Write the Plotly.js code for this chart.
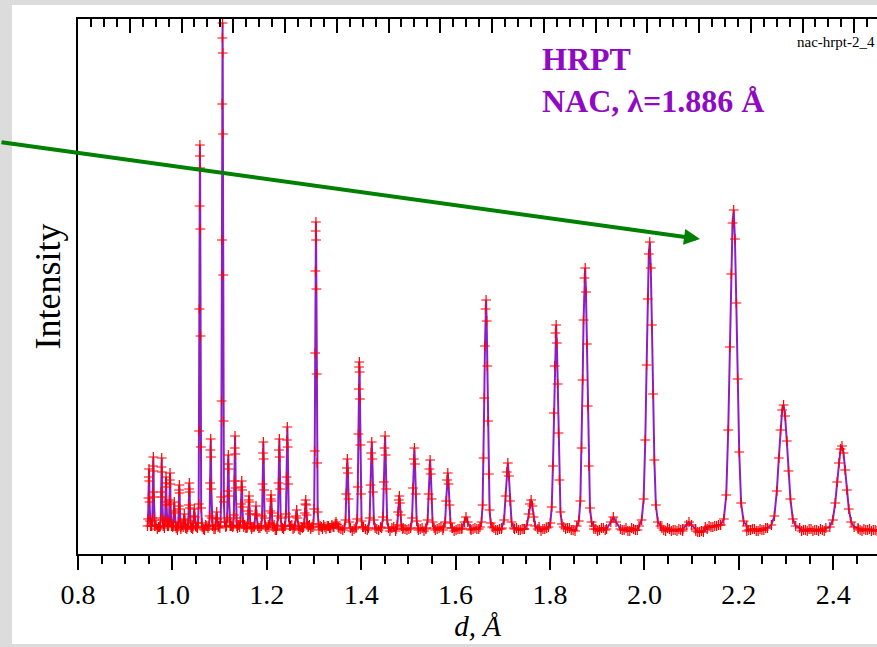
<!DOCTYPE html>
<html><head><meta charset="utf-8">
<script src="https://cdn.plot.ly/plotly-3.0.1.min.js"></script>
<style>html,body{margin:0;padding:0;background:#fff;overflow:hidden}</style>
</head><body><div id="chart" style="width:877px;height:647px"></div>
<script>
// ---- data: d (Å) and intensity (arbitrary units) ----
const peakPoints = [
 [[0.9473,4],[0.9485,11],[0.9493,32],[0.9499,53],[0.9505,61],[0.9510,49],[0.9516,28],[0.9524,9],[0.9536,4]],
 [[0.9564,4],[0.9576,12],[0.9584,38],[0.9590,64],[0.9596,73],[0.9601,59],[0.9607,33],[0.9615,10],[0.9627,4]],
 [[0.9742,4],[0.9754,12],[0.9762,38],[0.9768,63],[0.9774,72],[0.9779,58],[0.9785,33],[0.9793,10],[0.9805,4]],
 [[0.9833,4],[0.9845,10],[0.9853,28],[0.9859,47],[0.9865,53],[0.9870,43],[0.9876,25],[0.9884,8],[0.9896,4]],
 [[0.9918,4],[0.9930,10],[0.9938,30],[0.9944,50],[0.9950,57],[0.9955,46],[0.9961,26],[0.9969,8],[0.9981,4]],
 [[1.0016,4],[1.0031,19],[1.0040,28],[1.0050,17],[1.0065,4]],
 [[1.0115,3],[1.0127,8],[1.0135,24],[1.0141,40],[1.0147,45],[1.0152,37],[1.0158,21],[1.0166,7],[1.0178,3]],
 [[1.0228,3],[1.0243,11],[1.0252,16],[1.0262,10],[1.0277,3]],
 [[1.0324,3],[1.0338,9],[1.0346,25],[1.0353,41],[1.0359,47],[1.0365,38],[1.0371,22],[1.0380,7],[1.0393,3]],
 [[1.0438,4],[1.0454,14],[1.0464,21],[1.0475,13],[1.0492,4]],
 [[1.0544,7],[1.0557,26],[1.0565,99],[1.0571,221],[1.0577,324],[1.0580,374],[1.0583,385],[1.0587,362],[1.0591,301],[1.0596,194],[1.0603,83],[1.0610,22],[1.0623,7]],
 [[1.0775,4],[1.0789,14],[1.0798,47],[1.0805,80],[1.0812,91],[1.0818,73],[1.0825,41],[1.0834,12],[1.0849,4]],
 [[1.0910,4],[1.0929,12],[1.0939,18],[1.0951,11],[1.0969,3]],
 [[1.1020,8],[1.1034,33],[1.1042,129],[1.1049,290],[1.1055,426],[1.1059,492],[1.1063,507],[1.1066,477],[1.1070,396],[1.1076,255],[1.1083,109],[1.1091,28],[1.1105,8]],
 [[1.1145,4],[1.1160,12],[1.1170,39],[1.1178,66],[1.1185,75],[1.1192,61],[1.1199,34],[1.1209,10],[1.1225,4]],
 [[1.1287,4],[1.1302,15],[1.1312,49],[1.1320,82],[1.1327,94],[1.1334,76],[1.1341,42],[1.1351,12],[1.1367,4]],
 [[1.1426,3],[1.1442,9],[1.1453,26],[1.1461,43],[1.1469,49],[1.1476,40],[1.1485,23],[1.1495,8],[1.1512,3]],
 [[1.1581,3],[1.1597,7],[1.1608,19],[1.1616,30],[1.1624,34],[1.1631,28],[1.1640,16],[1.1650,6],[1.1667,3]],
 [[1.1738,4],[1.1759,16],[1.1771,24],[1.1785,15],[1.1806,4]],
 [[1.1884,4],[1.1900,14],[1.1911,46],[1.1919,77],[1.1927,88],[1.1934,71],[1.1943,40],[1.1953,12],[1.1970,4]],
 [[1.2044,3],[1.2062,7],[1.2073,19],[1.2082,31],[1.2090,35],[1.2098,29],[1.2107,17],[1.2118,6],[1.2135,3]],
 [[1.2220,4],[1.2238,14],[1.2249,47],[1.2258,80],[1.2266,91],[1.2274,73],[1.2283,41],[1.2294,12],[1.2311,4]],
 [[1.2386,4],[1.2405,16],[1.2417,53],[1.2427,90],[1.2435,103],[1.2444,83],[1.2453,46],[1.2465,13],[1.2483,4]],
 [[1.2596,4],[1.2619,14],[1.2633,20],[1.2648,12],[1.2672,4]],
 [[1.2774,3],[1.2793,7],[1.2806,17],[1.2816,26],[1.2825,30],[1.2834,25],[1.2844,15],[1.2856,6],[1.2876,3]],
 [[1.2986,6],[1.3004,21],[1.3015,79],[1.3024,177],[1.3031,259],[1.3036,299],[1.3041,308],[1.3045,290],[1.3051,241],[1.3058,156],[1.3067,67],[1.3078,18],[1.3096,6]],
 [[1.3422,3],[1.3450,6],[1.3466,8],[1.3484,6],[1.3512,3]],
 [[1.3643,2],[1.3668,10],[1.3683,36],[1.3696,62],[1.3707,71],[1.3719,57],[1.3731,31],[1.3747,8],[1.3771,2]],
 [[1.3892,3],[1.3915,11],[1.3928,43],[1.3940,96],[1.3949,141],[1.3955,163],[1.3961,168],[1.3967,158],[1.3974,131],[1.3983,85],[1.3994,36],[1.4007,9],[1.4030,3]],
 [[1.4152,2],[1.4179,12],[1.4197,45],[1.4211,77],[1.4224,88],[1.4236,71],[1.4250,38],[1.4267,10],[1.4295,2]],
 [[1.4434,2],[1.4461,13],[1.4479,48],[1.4493,82],[1.4506,94],[1.4518,75],[1.4532,41],[1.4549,10],[1.4577,2]],
 [[1.4737,1],[1.4764,5],[1.4782,18],[1.4796,30],[1.4809,34],[1.4821,27],[1.4835,15],[1.4852,4],[1.4880,1]],
 [[1.5048,2],[1.5078,12],[1.5097,42],[1.5113,71],[1.5127,82],[1.5140,66],[1.5155,36],[1.5175,9],[1.5205,2]],
 [[1.5374,2],[1.5407,10],[1.5428,36],[1.5445,61],[1.5460,70],[1.5475,56],[1.5491,31],[1.5512,8],[1.5545,2]],
 [[1.5742,2],[1.5778,8],[1.5800,29],[1.5819,50],[1.5835,57],[1.5851,46],[1.5869,25],[1.5892,7],[1.5927,2]],
 [[1.6132,1],[1.6188,8],[1.6220,13],[1.6256,8],[1.6312,1]],
 [[1.6516,3],[1.6548,8],[1.6572,25],[1.6592,72],[1.6608,132],[1.6622,184],[1.6634,221],[1.6646,230],[1.6658,209],[1.6672,164],[1.6686,109],[1.6702,56],[1.6720,20],[1.6744,7],[1.6776,3]],
 [[1.6978,2],[1.7027,10],[1.7059,34],[1.7084,58],[1.7107,67],[1.7129,54],[1.7154,29],[1.7185,8],[1.7235,2]],
 [[1.7457,1],[1.7512,5],[1.7547,16],[1.7575,26],[1.7600,30],[1.7625,24],[1.7652,13],[1.7687,4],[1.7742,1]],
 [[1.7967,3],[1.8007,7],[1.8037,23],[1.8062,64],[1.8082,117],[1.8099,164],[1.8115,197],[1.8130,205],[1.8145,187],[1.8162,146],[1.8179,97],[1.8199,50],[1.8222,18],[1.8252,6],[1.8292,3]],
 [[1.8566,4],[1.8610,9],[1.8643,29],[1.8670,82],[1.8692,150],[1.8711,210],[1.8729,252],[1.8745,262],[1.8762,238],[1.8781,186],[1.8799,124],[1.8821,64],[1.8847,22],[1.8880,8],[1.8924,4]],
 [[1.9198,1],[1.9289,8],[1.9341,13],[1.9400,8],[1.9491,1]],
 [[1.9886,4],[1.9942,10],[1.9984,31],[2.0019,90],[2.0047,165],[2.0071,231],[2.0093,276],[2.0114,288],[2.0135,262],[2.0159,205],[2.0183,136],[2.0211,70],[2.0243,25],[2.0285,8],[2.0341,4]],
 [[2.0813,1],[2.0897,5],[2.0945,8],[2.0999,5],[2.1083,1]],
 [[2.1615,5],[2.1683,11],[2.1734,35],[2.1776,100],[2.1810,183],[2.1839,256],[2.1867,307],[2.1892,320],[2.1918,291],[2.1947,227],[2.1975,151],[2.2009,78],[2.2049,27],[2.2100,9],[2.2168,4]],
 [[2.2607,2],[2.2691,5],[2.2754,14],[2.2806,39],[2.2848,72],[2.2884,100],[2.2918,120],[2.2949,125],[2.2981,114],[2.3017,89],[2.3052,59],[2.3094,31],[2.3143,11],[2.3206,4],[2.3290,2]],
 [[2.3844,2],[2.3928,3],[2.3991,10],[2.4043,27],[2.4085,48],[2.4121,67],[2.4155,81],[2.4186,84],[2.4218,77],[2.4254,60],[2.4289,40],[2.4331,21],[2.4380,8],[2.4443,3],[2.4527,2]]
];
const backgroundD = [
 0.948,0.953,0.958,0.963,0.968,0.973,0.978,0.983,0.988,0.993,0.998,1.003,1.008,1.013,1.018,1.023,1.028,1.033,1.038,1.043,
 1.048,1.053,1.058,1.063,1.068,1.073,1.078,1.083,1.088,1.093,1.098,1.103,1.108,1.113,1.118,1.123,1.128,1.133,1.138,1.143,
 1.148,1.153,1.158,1.163,1.168,1.173,1.178,1.183,1.188,1.193,1.198,1.203,1.208,1.213,1.218,1.223,1.228,1.233,1.238,1.243,
 1.248,1.253,1.258,1.263,1.268,1.273,1.278,1.283,1.288,1.293,1.298,1.303,1.308,1.313,1.318,1.323,1.328,1.333,1.338,1.343,
 1.353,1.361,1.369,1.377,1.385,1.393,1.401,1.409,1.417,1.425,1.433,1.441,1.449,1.457,1.465,1.473,1.481,1.489,1.497,1.505,
 1.513,1.521,1.529,1.537,1.545,1.553,1.561,1.569,1.577,1.585,1.593,1.601,1.609,1.617,1.625,1.633,1.641,1.649,1.657,1.665,
 1.673,1.681,1.689,1.697,1.705,1.713,1.721,1.729,1.737,1.745,1.753,1.761,1.769,1.777,1.785,1.793,1.801,1.809,1.817,1.825,
 1.833,1.841,1.849,1.857,1.865,1.873,1.881,1.889,1.897,1.905,1.913,1.921,1.929,1.937,1.945,1.953,1.961,1.969,1.977,1.985,
 1.993,2.001,2.009,2.017,2.025,2.033,2.041,2.049,2.057,2.065,2.073,2.081,2.089,2.097,2.105,2.113,2.121,2.129,2.137,2.145,
 2.153,2.161,2.169,2.177,2.185,2.193,2.201,2.209,2.217,2.225,2.233,2.241,2.249,2.257,2.265,2.273,2.281,2.289,2.297,2.305,
 2.313,2.321,2.329,2.337,2.345,2.353,2.361,2.369,2.377,2.385,2.393,2.401,2.409,2.417,2.425,2.433,2.441,2.449,2.457,2.465,
 2.473,2.481,2.489
];
const backgroundI = [
 3,5,2,4,1,3,5,2,4,0,3,5,2,4,1,4,2,5,3,1,
 4,2,5,3,0,4,2,5,1,3,4,2,5,3,1,4,3,5,2,0,
 3,5,2,4,1,3,5,2,4,1,3,5,2,4,0,3,5,2,4,1,
 3,5,2,4,1,3,5,2,4,1,3,5,2,4,1,3,4,2,5,3,
 2,0,1,3,1,-1,2,1,0,2, 1,3,0,1,2,-1,1,2,0,3,
 1,0,2,1,-1,2,1,3,0,1, 2,0,1,3,1,0,2,1,-1,2,
 1,2,0,1,3,1,-1,2,0,1, 2,1,0,3,1,2,0,1,2,-1,
 1,2,0,1,3,1,0,2,1,0, 2,1,3,2,1,0,2,-1,1,0,
 1,2,0,1,-1,1,0,2,-1,0, 1,-1,0,1,-2,-2,-1,3,4,3,
 4,5,3,4,2,1,0,1,-1,0, 1,-1,0,2,0,-1,1,0,2,1,
 0,-1,1,0,-1,1,0,-1,0,1, -1,0,1,0,-1,0,1,-1,0,1,
 0,-1,0
];
// background points lying between the ones above
const backgroundD2 = [
 0.9505,0.9555,0.9605,0.9655,0.9705,0.9755,0.9805,0.9855,0.9905,0.9955,1.0005,1.0055,1.0105,1.0155,1.0205,1.0255,1.0305,1.0355,1.0405,1.0455,
 1.0505,1.0555,1.0605,1.0655,1.0705,1.0755,1.0805,1.0855,1.0905,1.0955,1.1005,1.1055,1.1105,1.1155,1.1205,1.1255,1.1305,1.1355,1.1405,1.1455,
 1.1505,1.1555,1.1605,1.1655,1.1705,1.1755,1.1805,1.1855,1.1905,1.1955,1.2005,1.2055,1.2105,1.2155,1.2205,1.2255,1.2305,1.2355,1.2405,1.2455,
 1.2505,1.2555,1.2605,1.2655,1.2705,1.2755,1.2805,1.2855,1.2905,1.2955,1.3005,1.3055,1.3105,1.3155,1.3205,1.3255,1.3305,1.3355,1.3405,1.3455,
 1.357,1.365,1.373,1.381,1.389,1.397,1.405,1.413,1.421,1.429,1.437,1.445,1.453,1.461,1.469,1.477,1.485,1.493,1.501,1.509,
 1.517,1.525,1.533,1.541,1.549,1.557,1.565,1.573,1.581,1.589,1.597,1.605,1.613,1.621,1.629,1.637,1.645,1.653,1.661,1.669,
 1.677,1.685,1.693,1.701,1.709,1.717,1.725,1.733,1.741,1.749,1.757,1.765,1.773,1.781,1.789,1.797,1.805,1.813,1.821,1.829,
 1.837,1.845,1.853,1.861,1.869,1.877,1.885,1.893,1.901,1.909,1.917,1.925,1.933,1.941,1.949,1.957,1.965,1.973,1.981,1.989,
 1.997,2.005,2.013,2.021,2.029,2.037,2.045,2.053,2.061,2.069,2.077,2.085,2.093,2.101,2.109,2.117,2.125,2.133,2.141,2.149,
 2.157,2.165,2.173,2.181,2.189,2.197,2.205,2.213,2.221,2.229,2.237,2.245,2.253,2.261,2.269,2.277,2.285,2.293,2.301,2.309,
 2.317,2.325,2.333,2.341,2.349,2.357,2.365,2.373,2.381,2.389,2.397,2.405,2.413,2.421,2.429,2.437,2.445,2.453,2.461,2.469,
 2.477,2.485,2.493
];
const backgroundI2 = [
 2,4,1,5,3,0,4,2,5,1,3,4,0,2,5,3,1,4,2,5,
 3,0,4,1,5,2,3,5,1,4,2,0,3,5,2,4,1,3,5,0,
 4,2,5,1,3,0,4,2,5,3,1,4,2,5,0,3,4,1,5,2,
 4,1,3,5,0,2,4,1,5,3,2,4,0,3,5,1,4,2,3,5,
 1,2,0,-1,2,1,3,0,1,2, 0,2,1,-1,3,0,2,1,1,0,
 2,1,-1,1,3,0,2,0,1,2, -1,1,2,0,3,1,1,-1,2,0,
 2,0,1,3,0,2,1,0,1,3, 0,1,2,-1,1,2,0,3,1,1,
 2,0,-1,2,1,3,0,1,-1,2, 0,2,1,1,3,0,-1,2,0,1,
 2,-1,0,1,0,2,-1,1,0,-1, 0,1,-1,0,-1,-2,-2,1,3,4,
 5,4,3,2,1,0,2,-1,0,1, -1,1,0,-1,1,0,1,-1,0,2,
 0,1,-1,0,1,-1,0,1,-1,0, 1,-1,0,0,1,-1,0,1,-1,0,
 1,0,-1
];
const xTickValues = [0.8, 1.0, 1.2, 1.4, 1.6, 1.8, 2.0, 2.2, 2.4];
const xTickLabels = ['0.8', '1.0', '1.2', '1.4', '1.6', '1.8', '2.0', '2.2', '2.4'];
const titleLines = ['HRPT', 'NAC, λ=1.886 Å'];
const fileLabel = 'nac-hrpt-2_4';
const yTitle = 'Intensity';
const xTitle = 'd, Å';

// ---- merge the profile ----
const spans = peakPoints.map(p => [p[0][0], p[p.length - 1][0]]);
const pts = [];
peakPoints.forEach(p => p.forEach(q => pts.push(q)));
const addBackground = (ds, is) => ds.forEach((d, i) => {
  if (!spans.some(s => d >= s[0] && d <= s[1])) pts.push([d, is[i]]);
});
addBackground(backgroundD, backgroundI);
addBackground(backgroundD2, backgroundI2);
pts.sort((a, b) => a[0] - b[0]);
const dAll = pts.map(p => p[0]);
const iAll = pts.map(p => p[1]);

const serif = 'Liberation Serif, Times New Roman, serif';
const purple = 'rgb(140,30,200)';

const traces = [
  { x: dAll, y: iAll, type: 'scatter', mode: 'lines', name: 'calc',
    line: { color: purple, width: 2 }, hoverinfo: 'skip' },
  { x: dAll, y: iAll, type: 'scatter', mode: 'markers', name: 'obs',
    marker: { symbol: 'cross-thin', size: 7, color: 'red', line: { color: 'red', width: 1.2 } } },
  { x: [], y: [], xaxis: 'x2', yaxis: 'y', type: 'scatter', mode: 'markers', showlegend: false }
];

const W = 877, H = 647, L = 78, T = 19, B = 93;
const pw = W - L, ph = H - T - B;
const px = X => (X - L) / pw;
const py = Y => (H - B - Y) / ph;

const layout = {
  width: W, height: H,
  margin: { l: L, r: 0, t: T, b: B, pad: 0 },
  paper_bgcolor: '#dcdcdc', plot_bgcolor: 'white',
  showlegend: false,
  font: { family: serif, color: 'black' },
  xaxis: {
    range: [0.8, 0.8 + pw / 472], showline: true, linewidth: 2, linecolor: 'black',
    ticks: 'outside', ticklen: 14, tickwidth: 2, tickcolor: 'black',
    tickvals: xTickValues, ticktext: xTickLabels,
    tickfont: { family: serif, size: 28, color: 'black' },
    minor: { dtick: 0.05, tick0: 0.8, ticks: 'outside', ticklen: 8, tickwidth: 2, tickcolor: 'black' },
    showgrid: false, zeroline: false,
    title: { text: '<i>' + xTitle + '</i>', font: { family: serif, size: 29, color: 'black' }, standoff: 4 }
  },
  xaxis2: {
    overlaying: 'x', side: 'top', anchor: 'y',
    range: [-1, -1 + pw / 51.75], showline: true, linewidth: 2, linecolor: 'black',
    ticks: 'inside', ticklen: 14, tickwidth: 2, tickcolor: 'black', dtick: 1, tick0: 0,
    minor: { dtick: 0.25, tick0: 0, ticks: 'inside', ticklen: 8, tickwidth: 2, tickcolor: 'black' },
    showticklabels: false, showgrid: false, zeroline: false
  },
  yaxis: {
    range: [-24, 511], showline: true, linewidth: 2, linecolor: 'black',
    ticks: '', showticklabels: false, showgrid: false, zeroline: false,
    title: { text: yTitle, font: { family: serif, size: 36, color: 'black' }, standoff: 4 }
  },
  shapes: [
    { type: 'rect', xref: 'paper', yref: 'paper', layer: 'below',
      x0: px(12), x1: px(900), y0: py(644), y1: py(5), fillcolor: 'white', line: { width: 0 } }
  ],
  annotations: [
    { xref: 'paper', yref: 'paper', x: px(540), y: py(39), xanchor: 'left', yanchor: 'top',
      text: '<b>' + titleLines.join('<br>') + '</b>', align: 'left', showarrow: false,
      font: { family: serif, size: 32, color: 'rgb(145,10,195)' } },
    { xref: 'paper', yref: 'paper', x: px(877), y: py(42), xanchor: 'right', yanchor: 'middle',
      text: fileLabel, showarrow: false, font: { family: serif, size: 15, color: 'black' } },
    { xref: 'paper', yref: 'paper', x: px(700), y: py(239), text: '', showarrow: true,
      axref: 'pixel', ayref: 'pixel', ax: -712, ay: -97, arrowhead: 2, arrowsize: 0.8,
      arrowwidth: 4, arrowcolor: 'rgb(0,128,0)', standoff: 0 }
  ]
};

Plotly.newPlot('chart', traces, layout, { staticPlot: true, displayModeBar: false });
</script></body></html>
